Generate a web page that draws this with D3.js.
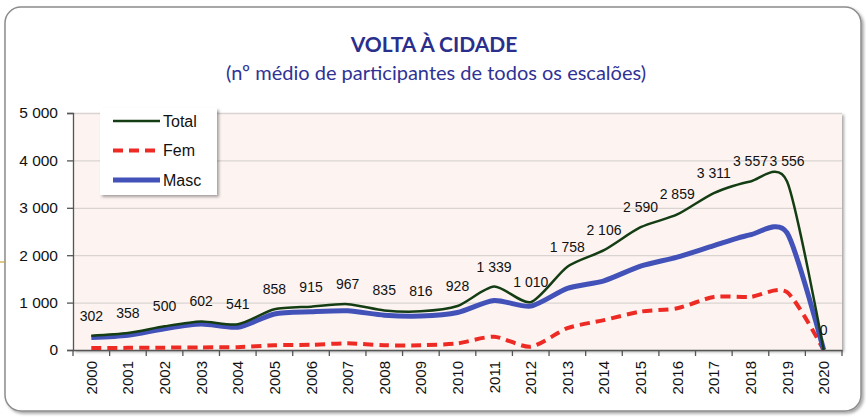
<!DOCTYPE html>
<html>
<head>
<meta charset="utf-8">
<script src="https://cdn.jsdelivr.net/npm/d3@7"></script>
<style>
  body { margin: 0; background: #fff; }
  svg { display: block; }
</style>
</head>
<body>
<div id="chart"></div>
<script>
const years = ['2000','2001','2002','2003','2004','2005','2006','2007','2008','2009','2010',
  '2011','2012','2013','2014','2015','2016','2017','2018','2019','2020'];
const total = [302, 358, 500, 602, 541, 858, 915, 967, 835, 816, 928,
  1339, 1010, 1758, 2106, 2590, 2859, 3311, 3557, 3556, 0];
const fem = [40, 45, 50, 55, 60, 100, 110, 140, 100, 100, 140,
  280, 70, 460, 630, 810, 880, 1120, 1120, 1220, 0];
const masc = [262, 313, 450, 547, 481, 758, 805, 827, 735, 716, 790,
  1045, 925, 1300, 1460, 1770, 1960, 2200, 2430, 2470, 0];
const yTicks = [0, 1000, 2000, 3000, 4000, 5000];

const width = 866, height = 417;
const plotL = 73, plotR = 842, plotT = 113, plotB = 350;

const fmt = d3.formatLocale({decimal: ',', thousands: ' ', grouping: [3], currency: ['', '']}).format(',d');

const svg = d3.select('#chart').append('svg')
  .attr('width', width)
  .attr('height', height);

const defs = svg.append('defs');
const shadow = defs.append('filter').attr('id', 'shadow')
  .attr('x', '-5%').attr('y', '-5%').attr('width', '115%').attr('height', '120%');
shadow.append('feDropShadow')
  .attr('dx', 2).attr('dy', 2).attr('stdDeviation', 1.5)
  .attr('flood-color', '#000').attr('flood-opacity', 0.35);

// outer frame
svg.append('rect')
  .attr('x', 5).attr('y', 7)
  .attr('width', 856).attr('height', 404)
  .attr('rx', 16)
  .attr('fill', '#fff')
  .attr('stroke', '#8c8c8c')
  .attr('stroke-width', 1.5)
  .attr('filter', 'url(#shadow)');

svg.append('line')
  .attr('x1', 0).attr('x2', 6).attr('y1', 262).attr('y2', 262)
  .attr('stroke', '#c9a441').attr('stroke-width', 1.2);

// titles
svg.append('text')
  .text('VOLTA À CIDADE')
  .attr('x', 434).attr('y', 52)
  .attr('text-anchor', 'middle')
  .attr('font-family', 'Lato, sans-serif')
  .attr('font-weight', 'bold')
  .attr('font-size', '21px')
  .attr('fill', '#2a2e8c');

svg.append('text')
  .text('(nº médio de participantes de todos os escalões)')
  .attr('x', 436).attr('y', 80)
  .attr('text-anchor', 'middle')
  .attr('font-family', 'Lato, sans-serif')
  .attr('font-size', '20px')
  .attr('fill', '#2f3295');

const x = d3.scaleBand().domain(years).range([plotL, plotR]);
const y = d3.scaleLinear().domain([0, 5000]).range([plotB, plotT]);
const cx = d => x(d) + x.bandwidth() / 2;

// plot area
svg.append('rect')
  .attr('x', plotL).attr('y', plotT)
  .attr('width', plotR - plotL).attr('height', plotB - plotT)
  .attr('fill', '#fdf4f1')
  .attr('filter', 'url(#shadow)');

// gridlines
svg.append('g')
  .attr('transform', `translate(${plotL},0)`)
  .call(d3.axisLeft(y).tickValues(yTicks.slice(1)).tickSize(-(plotR - plotL)).tickFormat(''))
  .call(g => g.select('.domain').remove())
  .call(g => g.selectAll('line').attr('stroke', '#d9d4d2').attr('stroke-width', 1.3));

// y axis
svg.append('g')
  .attr('transform', `translate(${plotL},0)`)
  .call(d3.axisLeft(y).tickValues(yTicks).tickSize(6).tickPadding(9).tickFormat(fmt))
  .call(g => g.select('.domain').attr('stroke', '#555').attr('stroke-width', 1.3))
  .call(g => g.selectAll('line').attr('stroke', '#555').attr('stroke-width', 1.3))
  .call(g => g.selectAll('text')
    .attr('font-family', 'Arial, Liberation Sans, sans-serif')
    .attr('font-size', '15.5px')
    .attr('fill', '#111'));

// x axis
const xAxis = svg.append('g')
  .attr('transform', `translate(0,${plotB})`)
  .call(d3.axisBottom(x).tickSize(0).tickPadding(0))
  .call(g => g.select('.domain').attr('stroke', '#555').attr('stroke-width', 1.5));
xAxis.selectAll('.tick text')
  .attr('font-family', 'Arial, Liberation Sans, sans-serif')
  .attr('font-size', '15px')
  .attr('fill', '#111')
  .attr('dy', null)
  .attr('text-anchor', 'end')
  .attr('dominant-baseline', 'central')
  .attr('transform', 'translate(0,11) rotate(-90)');

xAxis.selectAll('.bound')
  .data(years.map(d => x(d)).concat([x(years[years.length - 1]) + x.bandwidth()]))
  .join('line')
  .attr('class', 'bound')
  .attr('x1', d => d).attr('x2', d => d)
  .attr('y1', 0).attr('y2', 6)
  .attr('stroke', '#555').attr('stroke-width', 1.3);

// lines
const line = d3.line()
  .x((d, i) => cx(years[i]))
  .y(d => y(d))
  .curve(d3.curveCardinal.tension(0.25));

svg.append('path').datum(fem)
  .attr('d', line)
  .attr('fill', 'none')
  .attr('stroke', '#ee2a24')
  .attr('stroke-width', 4)
  .attr('stroke-dasharray', '10,6');

svg.append('path').datum(masc)
  .attr('d', line)
  .attr('fill', 'none')
  .attr('stroke', '#4252b8')
  .attr('stroke-width', 5);

svg.append('path').datum(total)
  .attr('d', line)
  .attr('fill', 'none')
  .attr('stroke', '#143d14')
  .attr('stroke-width', 2.5);

// data labels
svg.append('g').selectAll('text')
  .data(total)
  .join('text')
  .text(d => fmt(d))
  .attr('x', (d, i) => cx(years[i]))
  .attr('y', d => y(d) - 20)
  .attr('text-anchor', 'middle')
  .attr('dominant-baseline', 'central')
  .attr('font-family', 'Arial, Liberation Sans, sans-serif')
  .attr('font-size', '14px')
  .attr('fill', '#111');

// legend
const legend = svg.append('g');
legend.append('rect')
  .attr('x', 100).attr('y', 108)
  .attr('width', 117).attr('height', 87)
  .attr('fill', '#fff')
  .attr('filter', 'url(#shadow)');

const legendItems = [
  {name: 'Total', color: '#143d14', w: 2.5, dash: null},
  {name: 'Fem', color: '#ee2a24', w: 4, dash: '10,6'},
  {name: 'Masc', color: '#4252b8', w: 5, dash: null}
];
const li = legend.selectAll('.item')
  .data(legendItems)
  .join('g')
  .attr('transform', (d, i) => `translate(113,${121 + i * 29.5})`);
li.append('line')
  .attr('x1', 0).attr('x2', 47)
  .attr('stroke', d => d.color)
  .attr('stroke-width', d => d.w)
  .attr('stroke-dasharray', d => d.dash);
li.append('text')
  .text(d => d.name)
  .attr('x', 50)
  .attr('dominant-baseline', 'central')
  .attr('font-family', 'Arial, Liberation Sans, sans-serif')
  .attr('font-size', '16px')
  .attr('fill', '#111');
</script>
</body>
</html>
